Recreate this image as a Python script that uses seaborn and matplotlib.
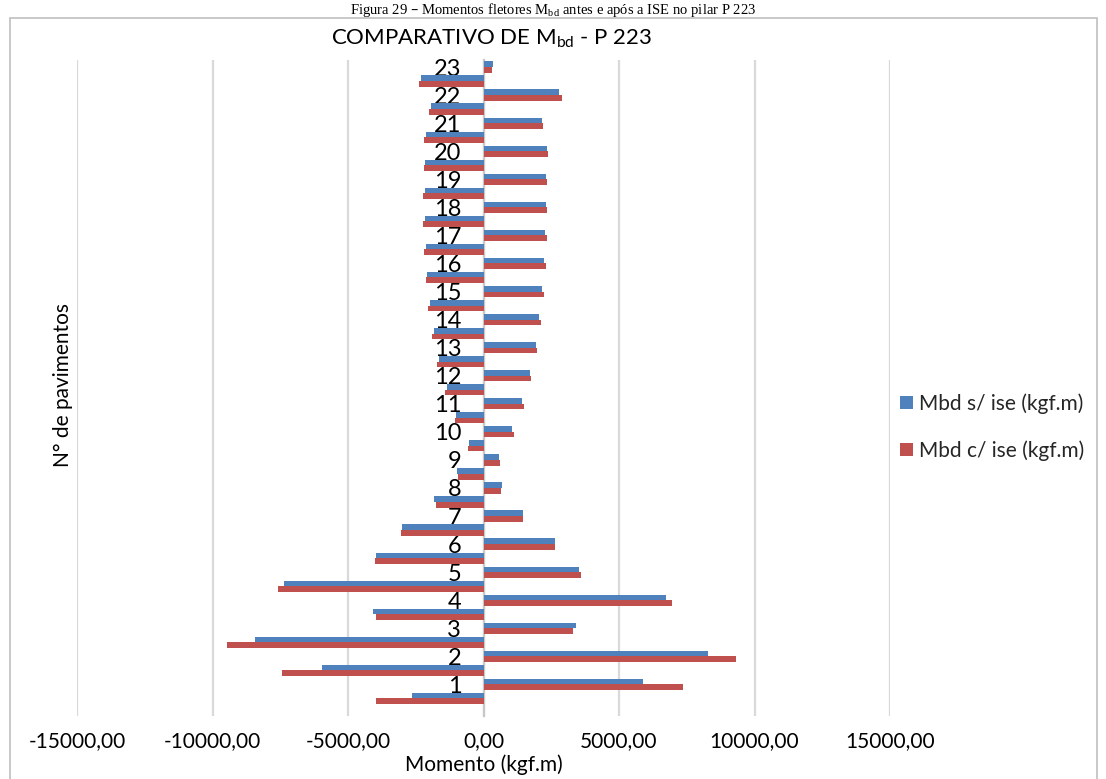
import matplotlib
matplotlib.use("Agg")
import matplotlib.pyplot as plt
import matplotlib.patches as mpatches
import seaborn as sns
import pandas as pd

# ---- data ----
floors = ["23", "22", "21", "20", "19", "18", "17", "16", "15", "14", "13", "12",
          "11", "10", "9", "8", "7", "6", "5", "4", "3", "2", "1"]
s_ise_pos = [345, 2800, 2150, 2330, 2290, 2290, 2265, 2225, 2165, 2055, 1920, 1710,
             1430, 1045, 565, 690, 1465, 2630, 3540, 6750, 3430, 8300, 5900]
c_ise_pos = [330, 2880, 2200, 2385, 2340, 2350, 2325, 2290, 2215, 2115, 1980, 1770,
             1490, 1120, 615, 650, 1440, 2645, 3580, 6970, 3285, 9335, 7380]
s_ise_neg = [-2320, -1950, -2140, -2150, -2175, -2175, -2140, -2075, -1980, -1845, -1650, -1365,
             -1010, -540, -985, -1810, -3025, -3950, -7380, -4070, -8450, -5975, -2650]
c_ise_neg = [-2390, -2000, -2200, -2200, -2240, -2215, -2200, -2140, -2040, -1895, -1700, -1425,
             -1070, -580, -950, -1770, -3035, -4000, -7600, -3960, -9480, -7450, -3985]
series_names = ["Mbd s/ ise (kgf.m)", "Mbd c/ ise (kgf.m)"]
x_ticks = [-15000, -10000, -5000, 0, 5000, 10000, 15000]

# ---- long table: each floor has a "top" (positive) and "base" (negative) row ----
rows = []
cat_order = []
for i, f in enumerate(floors):
    ct, cb = f + "_pos", f + "_neg"
    cat_order += [ct, cb]
    rows.append((ct, series_names[0], s_ise_pos[i]))
    rows.append((ct, series_names[1], c_ise_pos[i]))
    rows.append((cb, series_names[0], s_ise_neg[i]))
    rows.append((cb, series_names[1], c_ise_neg[i]))
df = pd.DataFrame(rows, columns=["cat", "serie", "valor"])

BLUE = "#4F81BD"
RED = "#C0504D"
GRID = "#D9D9D9"

sns.set_theme(style="white")
plt.rcParams["font.family"] = ["Lato", "DejaVu Sans"]

W, H = 1106, 779
fig = plt.figure(figsize=(W / 100, H / 100), dpi=100)
ax_l, ax_r, ax_t, ax_b = 77, 890, 60, 716
ax = fig.add_axes([ax_l / W, 1 - ax_b / H, (ax_r - ax_l) / W, (ax_b - ax_t) / H])

sns.barplot(data=df, y="cat", x="valor", hue="serie", order=cat_order,
            hue_order=series_names, palette=[BLUE, RED], width=0.8,
            orient="h", errorbar=None, ax=ax, saturation=1, zorder=3,
            linewidth=0)

ax.set_xlim(-15000, 15000)
ax.set_ylim(len(cat_order) - 0.5 + 0.75, -0.5)

ax.set_xticks(x_ticks)
ax.set_xticklabels([f"{v:.2f}".replace(".", ",") for v in x_ticks])
ax.set_yticks(range(len(cat_order)))
ax.set_yticklabels([floors[i // 2] if i % 2 == 0 else "" for i in range(len(cat_order))])
ax.tick_params(axis="x", length=0, pad=11, colors="black", labelsize=15)
ax.tick_params(axis="y", length=0, pad=16, colors="black", labelsize=17)

ax.grid(axis="x", color=GRID, linewidth=1.6, zorder=0)
ax.grid(axis="y", visible=False)
for s in ["top", "right", "bottom"]:
    ax.spines[s].set_visible(False)
ax.spines["left"].set_position(("data", 0))
ax.spines["left"].set_color("#C8C8C8")
ax.spines["left"].set_linewidth(1.6)
ax.spines["left"].set_zorder(2)

ax.set_xlabel("Momento (kgf.m)", fontsize=15, color="black")
ax.xaxis.set_label_coords(0.5, (ax_b - 754) / (ax_b - ax_t))
ax.set_ylabel("N° de pavimentos", fontsize=15, color="black")
ax.yaxis.set_label_coords((73 - ax_l) / (ax_r - ax_l), 0.505)

handles, labels = ax.get_legend_handles_labels()
if ax.legend_ is not None:
    ax.legend_.remove()
fig.legend(handles, labels, loc="center left",
           bbox_to_anchor=(900 / W, 1 - 427 / H), frameon=False, fontsize=15,
           labelspacing=1.25, handlelength=0.6, handleheight=0.6, handletextpad=0.3,
           borderpad=0, borderaxespad=0)

fig.text(492 / W, 1 - 39 / H, "COMPARATIVO DE M$_{\\mathregular{bd}}$ - P 223",
         ha="center", va="center", fontsize=16, color="black")

# caption above the chart frame
fig.text(553 / W, 1 - 1 / H,
         "Figura 29 – Momentos fletores M$_{\\mathregular{bd}}$ antes e após a ISE no pilar P 223",
         ha="center", va="top", fontsize=10.5, color="black",
         family=["Liberation Serif", "DejaVu Serif"])

# chart frame
fig.patches.append(mpatches.Rectangle((10 / W, -0.01), (1097 - 10) / W, 1 - 18 / H + 0.01,
                                      transform=fig.transFigure, fill=False,
                                      edgecolor="#BFBFBF", linewidth=1.2))

fig.savefig("out.png", dpi=100)
